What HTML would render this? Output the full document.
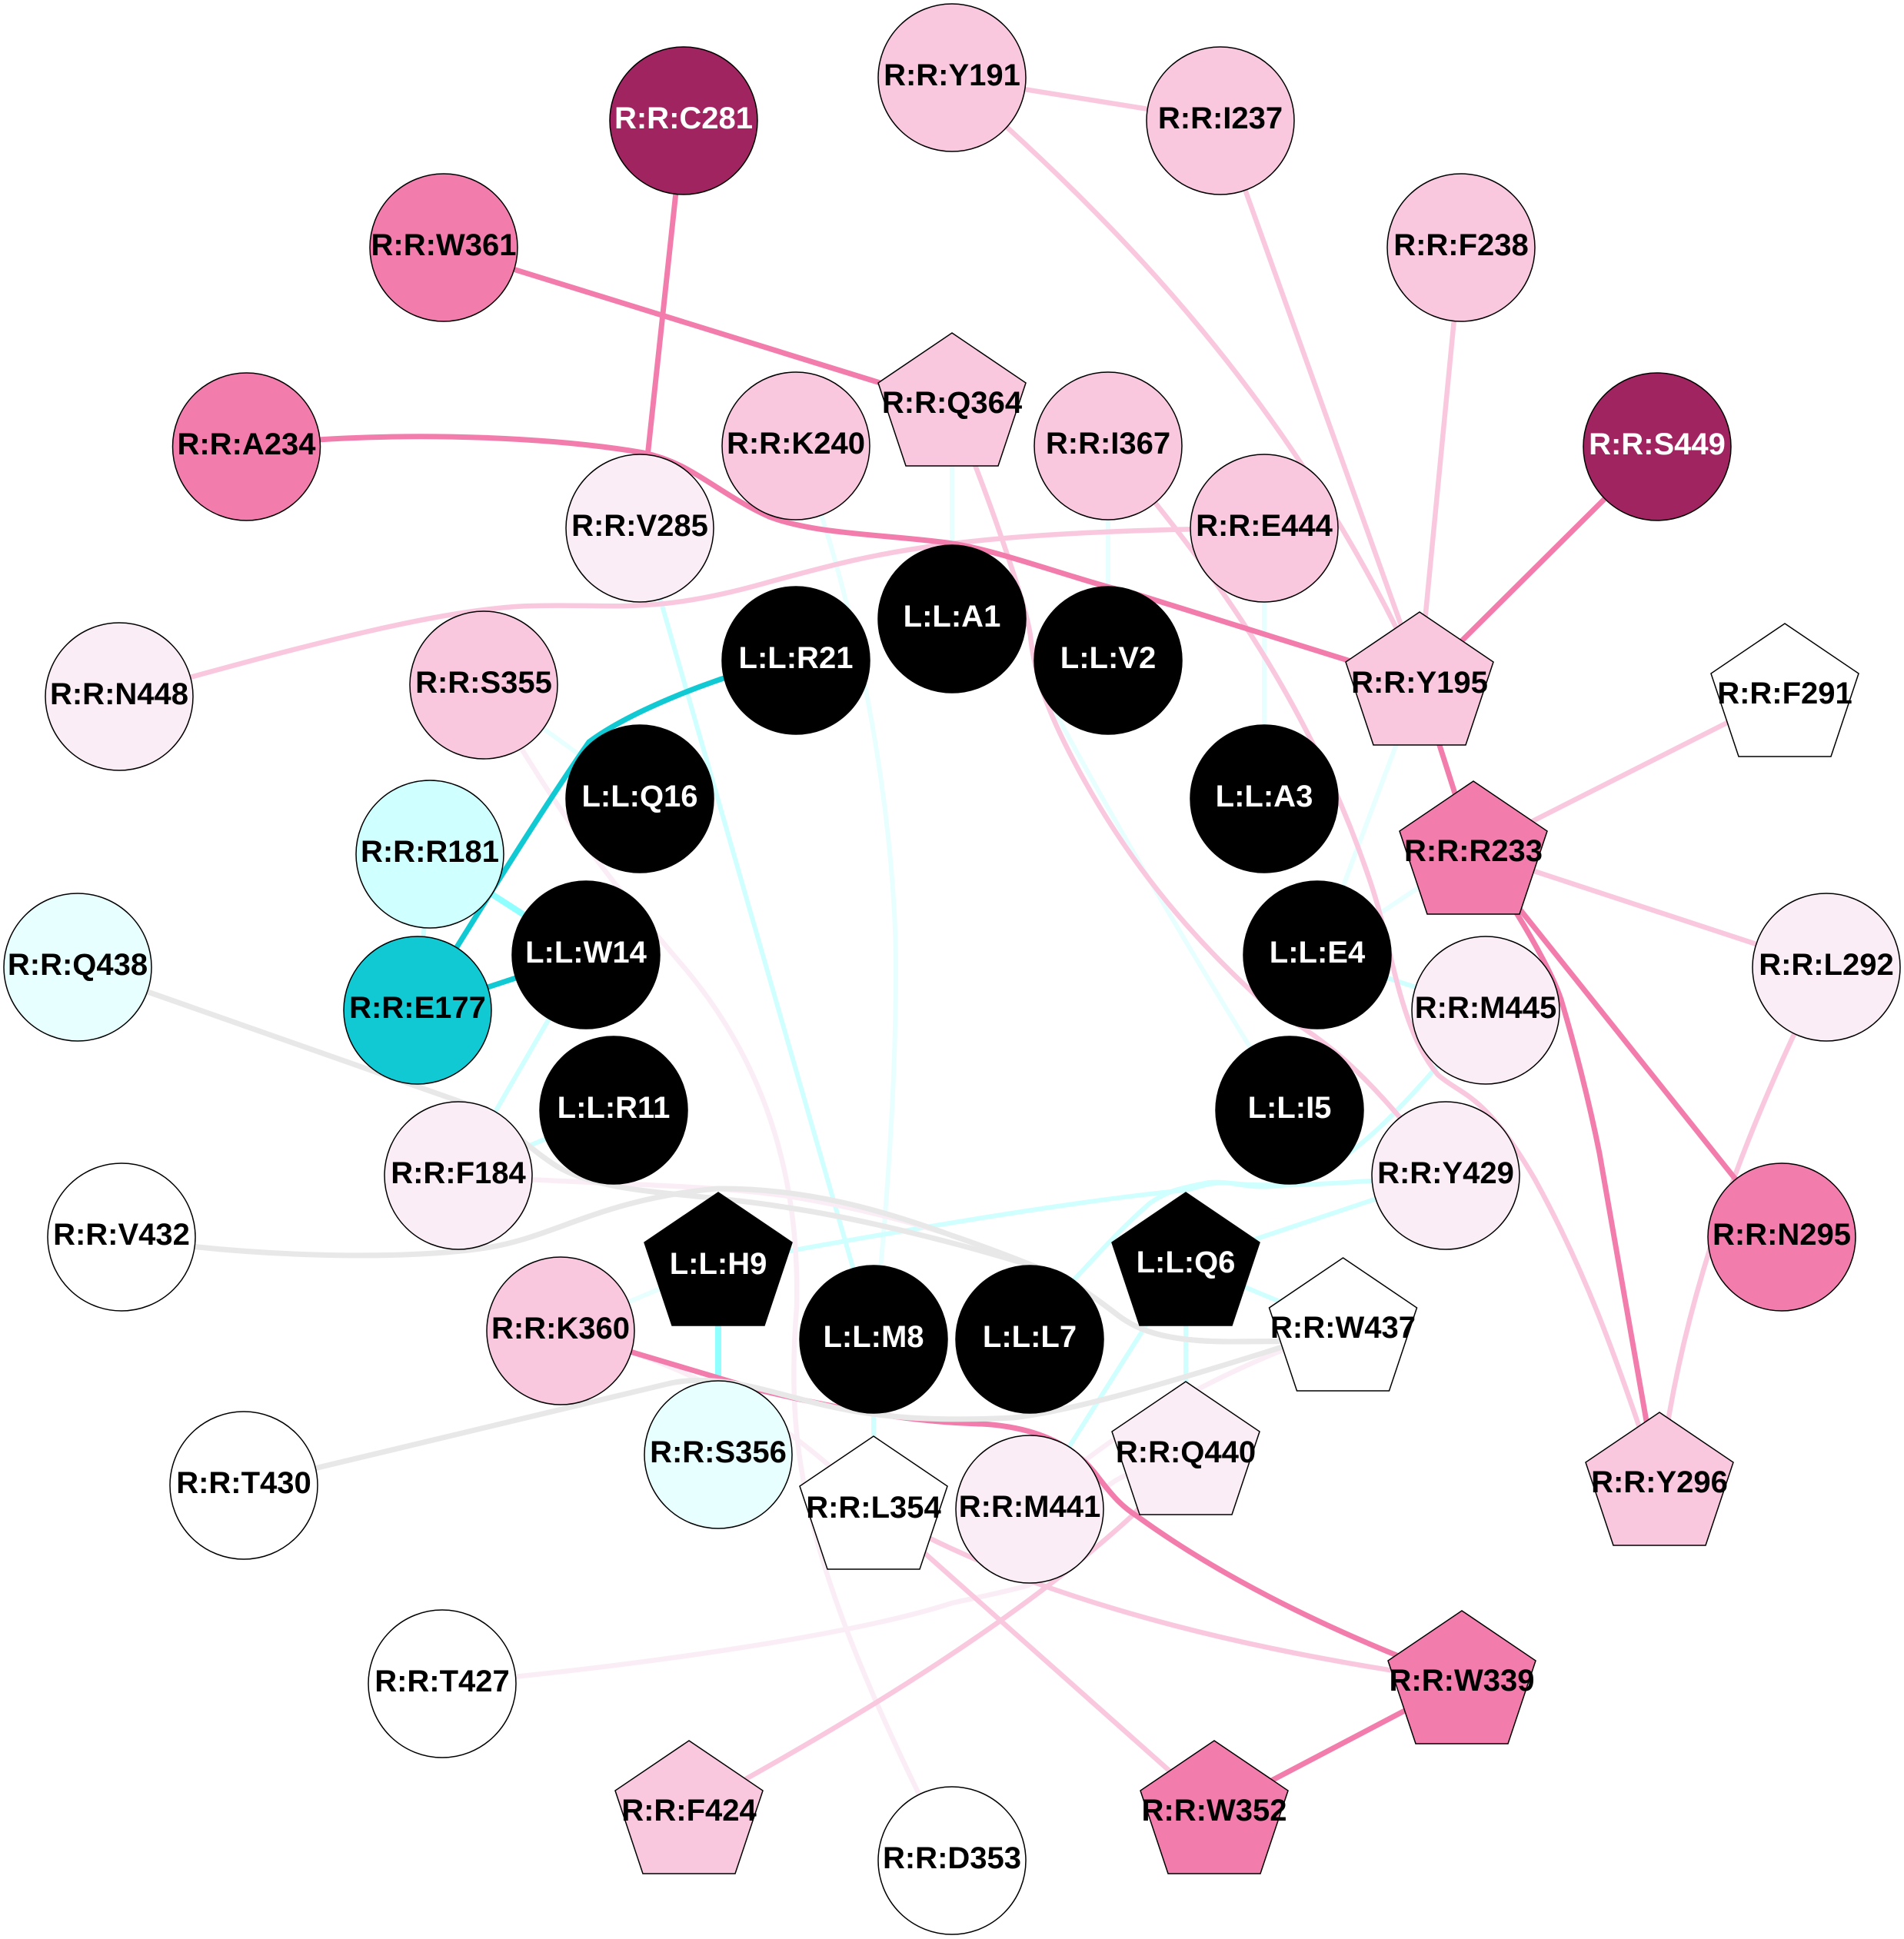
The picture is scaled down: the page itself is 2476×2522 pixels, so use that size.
<!DOCTYPE html>
<html><head><meta charset="utf-8"><style>
html,body{margin:0;padding:0;background:#fff}
svg{display:block}
.e path,.e line{fill:none;stroke-linecap:butt}
.s{stroke:#F27DAD;stroke-width:7;fill:none}
.l{stroke:#F9C8DF;stroke-width:6.500;fill:none}
.f{stroke:#FBEDF5;stroke-width:6.500;fill:none}
.g{stroke:#E8E8E8;stroke-width:7;fill:none}
.c{stroke:#10C9D3;stroke-width:7;fill:none}
.a{stroke:#8FFFFF;stroke-width:8;fill:none}
.d{stroke:#D0FFFF;stroke-width:6;fill:none}
.v{stroke:#E8FFFF;stroke-width:6;fill:none}
.n circle,.n polygon{stroke:#000;stroke-width:1.5}
text{font-family:"Liberation Sans",sans-serif;font-weight:700;font-size:40px;text-anchor:middle;fill:#000;transform:translateY(-1px)}
.w{fill:#fff}
</style></head><body>
<svg xmlns="http://www.w3.org/2000/svg" width="2476" height="2522" viewBox="0 0 2476 2522">
<rect width="2476" height="2522" fill="#fff"/>
<g class="e">
<line class="v" x1="1238" y1="524" x2="1238" y2="805"/>
<line class="v" x1="1441" y1="580" x2="1441" y2="859"/>
<line class="v" x1="1644" y1="687" x2="1644" y2="1039"/>
<line class="v" x1="1846" y1="888" x2="1713" y2="1242"/>
<line class="v" x1="1916" y1="1107" x2="1713" y2="1242"/>
<path class="v" d="M1360 905C1372 925 1380 940 1385 950C1450 1070 1560 1260 1677 1444"/>
<path class="v" d="M1035 580C1110 760 1165 1050 1165 1261C1165 1400 1155 1560 1136 1742"/>
<line class="v" x1="629" y1="891" x2="832" y2="1039"/>
<line class="v" x1="729" y1="1731" x2="934" y2="1644"/>
<line class="d" x1="832" y1="687" x2="1136" y2="1742"/>
<line class="d" x1="559" y1="1111" x2="543" y2="1314"/>
<line class="d" x1="762" y1="1242" x2="596" y2="1529"/>
<line class="d" x1="798" y1="1444" x2="596" y2="1529"/>
<line class="d" x1="1932" y1="1314" x2="1713" y2="1242"/>
<path class="d" d="M1932 1314C1840 1420 1770 1510 1680 1540C1620 1550 1610 1535 1571 1538C1540 1545 1525 1545 1495 1565C1450 1605 1420 1640 1398 1663L1339 1742"/>
<path class="d" d="M1880 1529C1780 1536 1680 1545 1612 1540C1570 1535 1560 1545 1541 1548C1400 1562 1200 1595 934 1644"/>
<line class="d" x1="1880" y1="1529" x2="1542" y2="1642"/>
<line class="d" x1="1542" y1="1642" x2="1746" y2="1727"/>
<line class="d" x1="1542" y1="1642" x2="1542" y2="1889"/>
<line class="d" x1="1542" y1="1642" x2="1339" y2="1963"/>
<line class="d" x1="1136" y1="1742" x2="1136" y2="1961"/>
<line class="a" x1="559" y1="1111" x2="762" y2="1242"/>
<line class="a" x1="934" y1="1644" x2="934" y2="1892"/>
<path class="f" d="M629 891C720 1050 780 1130 892 1261C1000 1390 1040 1540 1036 1700C1020 1900 1050 2050 1238 2420"/>
<path class="f" d="M729 1731C880 1770 1010 1830 1136 1961"/>
<path class="f" d="M596 1529C760 1540 920 1540 1026 1556C1100 1568 1170 1585 1238 1607"/>
<path class="f" d="M575 2190C800 2170 1100 2130 1238 2085C1270 2078 1310 2070 1337 2062C1380 2040 1400 1945 1464 1919L1542 1889"/>
<path class="f" d="M1339 1963C1420 1880 1560 1790 1746 1727"/>
<line class="l" x1="1238" y1="101" x2="1587" y2="157"/>
<path class="l" d="M1309 165C1500 340 1700 560 1846 880"/>
<line class="l" x1="1587" y1="157" x2="1846" y2="880"/>
<line class="l" x1="1900" y1="322" x2="1846" y2="880"/>
<path class="l" d="M155 906C320 862 560 790 695 788C800 785 850 800 1000 757C1130 722 1230 690 1644 687"/>
<path class="l" d="M1238 524L1268 605C1295 675 1335 790 1340 827C1345 880 1365 930 1396 989C1470 1130 1560 1230 1649 1309C1710 1345 1770 1380 1880 1529"/>
<path class="l" d="M1441 580C1560 720 1700 900 1783 1150C1810 1230 1820 1340 1870 1398C1900 1425 1930 1420 1996 1534C2060 1650 2100 1760 2150 1910"/>
<line class="l" x1="1916" y1="1107" x2="2321" y2="902"/>
<line class="l" x1="1916" y1="1107" x2="2375" y2="1258"/>
<path class="l" d="M2375 1258C2310 1390 2190 1640 2158 1928"/>
<path class="l" d="M1136 1961C1300 2060 1560 2140 1901 2186"/>
<line class="l" x1="1136" y1="1961" x2="1579" y2="2355"/>
<path class="l" d="M896 2355C1050 2270 1300 2130 1475 1969L1542 1889"/>
<path class="g" d="M101 1258L596 1432C650 1450 680 1490 726 1518C790 1555 900 1550 1026 1571C1120 1585 1260 1620 1356 1651C1390 1663 1420 1685 1449 1707C1475 1728 1510 1745 1600 1745L1746 1744"/>
<path class="g" d="M158 1609C320 1635 520 1640 632 1623C720 1610 780 1560 932 1546C1050 1545 1150 1575 1238 1607C1300 1628 1340 1645 1356 1651C1390 1663 1420 1685 1449 1707C1475 1728 1510 1745 1600 1745L1746 1744"/>
<path class="s" d="M729 1731L987 1808C1080 1830 1180 1850 1276 1852C1330 1855 1390 1870 1427 1920C1450 1950 1460 1960 1480 1973C1600 2060 1750 2130 1901 2186"/>
<path class="g" d="M317 1932L868 1800C930 1785 1000 1810 1042 1820C1120 1842 1200 1850 1317 1844C1400 1835 1550 1790 1746 1727"/>
<line class="s" x1="1846" y1="888" x2="2155" y2="581"/>
<line class="s" x1="577" y1="322" x2="1238" y2="527"/>
<line class="s" x1="889" y1="157" x2="832" y2="687"/>
<path class="s" d="M320 581C480 560 700 565 837 589C900 602 930 640 1000 672C1060 695 1150 695 1232 706C1300 715 1400 755 1475 772L1846 888"/>
<line class="s" x1="1846" y1="888" x2="1916" y2="1107"/>
<line class="s" x1="1916" y1="1107" x2="2317" y2="1609"/>
<path class="s" d="M1916 1107L1973 1189C1995 1225 2020 1270 2030 1300C2045 1350 2065 1425 2080 1500C2105 1640 2130 1790 2155 1928"/>
<line class="s" x1="1901" y1="2186" x2="1579" y2="2355"/>
<path class="c" d="M1035 855C930 880 820 925 766 965C700 1060 620 1190 543 1314"/>
<line class="c" x1="762" y1="1242" x2="543" y2="1314"/>
</g>
<g class="n">
<circle cx="1238" cy="101" r="96" fill="#F9C8DF"/><text x="1238" y="112">R:R:Y191</text>
<circle cx="1587" cy="157" r="96" fill="#F9C8DF"/><text x="1587" y="168">R:R:I237</text>
<circle cx="889" cy="157" r="96" fill="#A0245F"/><text class="w" x="889" y="168">R:R:C281</text>
<circle cx="577" cy="322" r="96" fill="#F27DAD"/><text x="577" y="333">R:R:W361</text>
<circle cx="1900" cy="322" r="96" fill="#F9C8DF"/><text x="1900" y="333">R:R:F238</text>
<circle cx="320.500" cy="581" r="96" fill="#F27DAD"/><text x="320.500" y="592">R:R:A234</text>
<circle cx="1035" cy="580" r="96" fill="#F9C8DF"/><text x="1035" y="591">R:R:K240</text>
<circle cx="1441" cy="580" r="96" fill="#F9C8DF"/><text x="1441" y="591">R:R:I367</text>
<circle cx="2155" cy="581" r="96" fill="#A0245F"/><text class="w" x="2155" y="592">R:R:S449</text>
<circle cx="832" cy="687" r="96" fill="#FBEDF5"/><text x="832" y="698">R:R:V285</text>
<circle cx="1644" cy="687" r="96" fill="#F9C8DF"/><text x="1644" y="698">R:R:E444</text>
<circle cx="1238" cy="805" r="96" fill="#000"/><text class="w" x="1238" y="816">L:L:A1</text>
<circle cx="1035" cy="859" r="96" fill="#000"/><text class="w" x="1035" y="870">L:L:R21</text>
<circle cx="1441" cy="859" r="96" fill="#000"/><text class="w" x="1441" y="870">L:L:V2</text>
<circle cx="155" cy="906" r="96" fill="#FBEDF5"/><text x="155" y="917">R:R:N448</text>
<circle cx="629" cy="891" r="96" fill="#F9C8DF"/><text x="629" y="902">R:R:S355</text>
<circle cx="832" cy="1039" r="96" fill="#000"/><text class="w" x="832" y="1050">L:L:Q16</text>
<circle cx="1644" cy="1039" r="96" fill="#000"/><text class="w" x="1644" y="1050">L:L:A3</text>
<circle cx="559" cy="1111" r="96" fill="#D0FFFF"/><text x="559" y="1122">R:R:R181</text>
<circle cx="762" cy="1242" r="96" fill="#000"/><text class="w" x="762" y="1253">L:L:W14</text>
<circle cx="1713" cy="1242" r="96" fill="#000"/><text class="w" x="1713" y="1253">L:L:E4</text>
<circle cx="101" cy="1258" r="96" fill="#E8FFFF"/><text x="101" y="1269">R:R:Q438</text>
<circle cx="2375" cy="1258" r="96" fill="#FBEDF5"/><text x="2375" y="1269">R:R:L292</text>
<circle cx="543" cy="1314" r="96" fill="#10C9D3"/><text x="543" y="1325">R:R:E177</text>
<circle cx="1932" cy="1314" r="96" fill="#FBEDF5"/><text x="1932" y="1325">R:R:M445</text>
<circle cx="798" cy="1444" r="96" fill="#000"/><text class="w" x="798" y="1455">L:L:R11</text>
<circle cx="1677" cy="1444" r="96" fill="#000"/><text class="w" x="1677" y="1455">L:L:I5</text>
<circle cx="596" cy="1529" r="96" fill="#FBEDF5"/><text x="596" y="1540">R:R:F184</text>
<circle cx="1880" cy="1529" r="96" fill="#FBEDF5"/><text x="1880" y="1540">R:R:Y429</text>
<circle cx="158" cy="1609" r="96" fill="#fff"/><text x="158" y="1620">R:R:V432</text>
<circle cx="2317" cy="1609" r="96" fill="#F27DAD"/><text x="2317" y="1620">R:R:N295</text>
<circle cx="729" cy="1731" r="96" fill="#F9C8DF"/><text x="729" y="1742">R:R:K360</text>
<circle cx="1136" cy="1742" r="96" fill="#000"/><text class="w" x="1136" y="1753">L:L:M8</text>
<circle cx="1339" cy="1742" r="96" fill="#000"/><text class="w" x="1339" y="1753">L:L:L7</text>
<circle cx="934" cy="1892" r="96" fill="#E8FFFF"/><text x="934" y="1903">R:R:S356</text>
<circle cx="317" cy="1932" r="96" fill="#fff"/><text x="317" y="1943">R:R:T430</text>
<circle cx="1339" cy="1963" r="96" fill="#FBEDF5"/><text x="1339" y="1974">R:R:M441</text>
<circle cx="575" cy="2190" r="96" fill="#fff"/><text x="575" y="2201">R:R:T427</text>
<circle cx="1238" cy="2420" r="96" fill="#fff"/><text x="1238" y="2431">R:R:D353</text>
<g transform="translate(1238,433)"><polygon points="0,0 96,65 60,173 -60,173 -96,65" fill="#F9C8DF"/><text y="105">R:R:Q364</text></g>
<g transform="translate(1846,796)"><polygon points="0,0 96,65 60,173 -60,173 -96,65" fill="#F9C8DF"/><text y="106">R:R:Y195</text></g>
<g transform="translate(2321,811)"><polygon points="0,0 96,65 60,173 -60,173 -96,65" fill="#fff"/><text y="105">R:R:F291</text></g>
<g transform="translate(1916,1016)"><polygon points="0,0 96,65 60,173 -60,173 -96,65" fill="#F27DAD"/><text y="105">R:R:R233</text></g>
<g transform="translate(934,1551)"><polygon points="0,0 96,65 60,173 -60,173 -96,65" fill="#000"/><text class="w" y="107">L:L:H9</text></g>
<g transform="translate(1542,1551)"><polygon points="0,0 96,65 60,173 -60,173 -96,65" fill="#000"/><text class="w" y="105">L:L:Q6</text></g>
<g transform="translate(1746.500,1636)"><polygon points="0,0 96,65 60,173 -60,173 -96,65" fill="#fff"/><text y="105">R:R:W437</text></g>
<g transform="translate(1542,1797)"><polygon points="0,0 96,65 60,173 -60,173 -96,65" fill="#FBEDF5"/><text y="106">R:R:Q440</text></g>
<g transform="translate(2158,1837)"><polygon points="0,0 96,65 60,173 -60,173 -96,65" fill="#F9C8DF"/><text y="105">R:R:Y296</text></g>
<g transform="translate(1136,1868)"><polygon points="0,0 96,65 60,173 -60,173 -96,65" fill="#fff"/><text y="107">R:R:L354</text></g>
<g transform="translate(1901,2095)"><polygon points="0,0 96,65 60,173 -60,173 -96,65" fill="#F27DAD"/><text y="105">R:R:W339</text></g>
<g transform="translate(896,2264)"><polygon points="0,0 96,65 60,173 -60,173 -96,65" fill="#F9C8DF"/><text y="105">R:R:F424</text></g>
<g transform="translate(1579,2264)"><polygon points="0,0 96,65 60,173 -60,173 -96,65" fill="#F27DAD"/><text y="105">R:R:W352</text></g>
</g>
</svg>
</body></html>
